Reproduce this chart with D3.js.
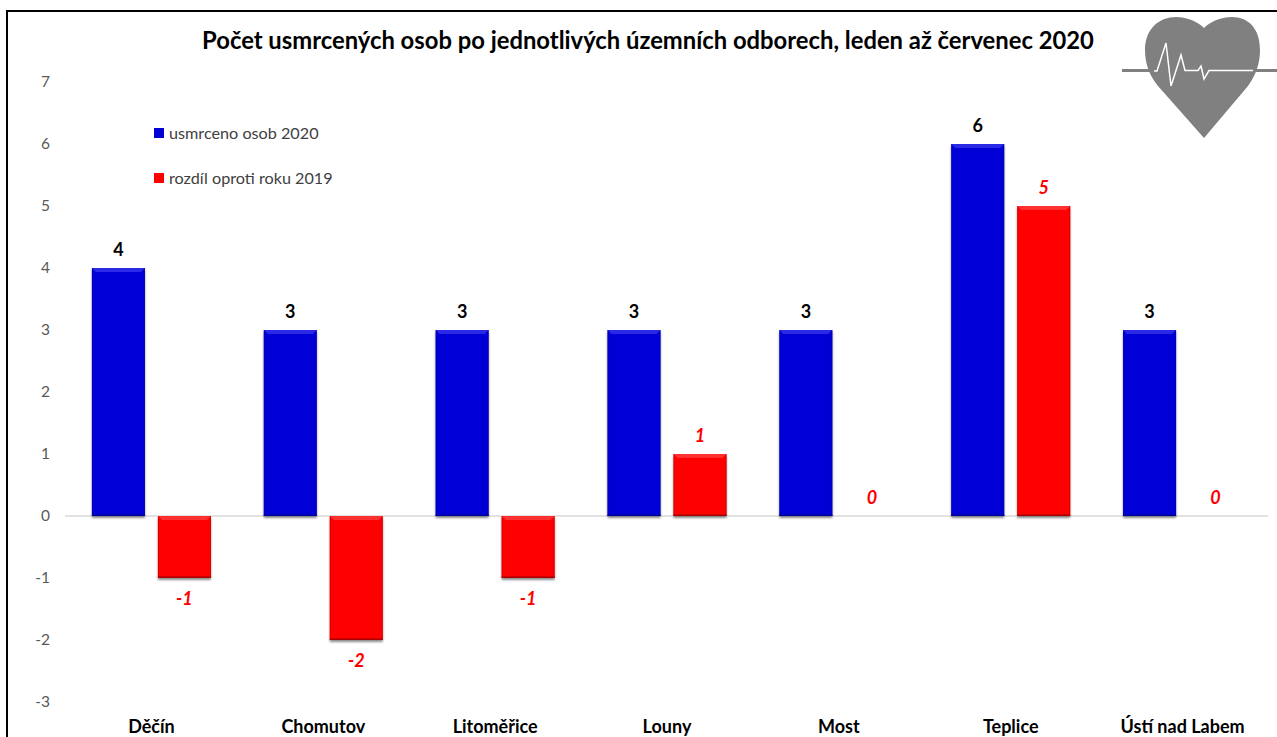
<!DOCTYPE html>
<html>
<head>
<meta charset="utf-8">
<script src="https://cdn.jsdelivr.net/npm/d3@7"></script>
<style>
  body { margin: 0; background: #fff; overflow: hidden; }
  text { font-family: Lato, sans-serif; }
</style>
</head>
<body>
<svg id="chart"></svg>
<script>
var w = 1277;
var h = 737;

var categories = ["Děčín", "Chomutov", "Litoměřice", "Louny", "Most", "Teplice", "Ústí nad Labem"];
var killed2020 = [4, 3, 3, 3, 3, 6, 3];
var diff2019 = [-1, -2, -1, 1, 0, 5, 0];
var seriesNames = ["usmrceno osob 2020", "rozdíl oproti roku 2019"];
var yTicks = [-3, -2, -1, 0, 1, 2, 3, 4, 5, 6, 7];
var chartTitle = "Počet usmrcených osob po jednotlivých územních odborech, leden až červenec 2020";

var svg = d3.select("#chart").attr("width", w).attr("height", h);

var defs = svg.append("defs");

var shadow = defs.append("filter").attr("id", "barShadow")
  .attr("x", "-15%").attr("y", "-15%").attr("width", "130%").attr("height", "130%");
shadow.append("feDropShadow").attr("dx", 0).attr("dy", 2).attr("stdDeviation", 1.3)
  .attr("flood-color", "#000").attr("flood-opacity", 0.45);

var x = d3.scaleBand().domain(categories).range([65.5, 1268.5]).paddingInner(0.3076).paddingOuter(0.1538);
var x1 = d3.scaleBand().domain([0, 1]).range([0, x.bandwidth()]).paddingInner(0.197);
var y = d3.scaleLinear().domain([-3, 7]).range([702, 82]);

// frame
svg.append("path").attr("d", "M7,737V11H1277").attr("fill", "none").attr("stroke", "#000").attr("stroke-width", 2);

svg.append("text").attr("x", 648).attr("y", 49).attr("text-anchor", "middle")
  .attr("font-size", 23.8).attr("font-weight", 700).attr("fill", "#000")
  .text(chartTitle);

// y axis, labels only
var yAxis = d3.axisLeft(y).tickValues(yTicks).tickSize(0).tickPadding(0).tickFormat(function(d) { return String(d); });
var yG = svg.append("g").attr("transform", "translate(50,0)").call(yAxis);
yG.select(".domain").remove();
yG.selectAll("text").attr("font-size", 15.5).attr("fill", "#595959")
  .style("font-family", "Lato, sans-serif");

// zero line
svg.append("line").attr("x1", 65).attr("x2", 1268).attr("y1", y(0)).attr("y2", y(0))
  .attr("stroke", "#d9d9d9").attr("stroke-width", 1.5);

// x labels
var xAxis = d3.axisBottom(x).tickSize(0).tickPadding(0);
var xG = svg.append("g").attr("transform", "translate(0,720)").call(xAxis);
xG.select(".domain").remove();
xG.selectAll("text").attr("font-size", 18).attr("font-weight", 700).attr("fill", "#000")
  .style("font-family", "Lato, sans-serif");

// bar with the bevelled top edge
function drawBar(g, left, width, value, base, light, dark) {
  var top = Math.min(y(value), y(0));
  var height = Math.abs(y(value) - y(0));
  var bev = Math.min(4, height / 2);
  var bar = g.append("g");
  bar.append("rect").attr("x", left).attr("y", top).attr("width", width).attr("height", height)
    .attr("fill", base).attr("filter", "url(#barShadow)");
  bar.append("path")
    .attr("d", "M" + left + "," + top + "h" + width + "l-" + bev + "," + bev + "h-" + (width - 2 * bev) + "z")
    .attr("fill", light);
  bar.append("rect").attr("x", left).attr("y", top + height - 1.5).attr("width", width).attr("height", 1.5)
    .attr("fill", dark);
  bar.append("rect").attr("x", left).attr("y", top).attr("width", 1).attr("height", height)
    .attr("fill", dark).attr("opacity", 0.5);
  bar.append("rect").attr("x", left + width - 1).attr("y", top).attr("width", 1).attr("height", height)
    .attr("fill", dark).attr("opacity", 0.5);
}

categories.forEach(function(c, i) {
  var g = svg.append("g").attr("transform", "translate(" + x(c) + ",0)");
  drawBar(g, x1(0), x1.bandwidth(), killed2020[i], "#0202d6", "#2a2ae6", "#00009a");
  if (diff2019[i] !== 0) drawBar(g, x1(1), x1.bandwidth(), diff2019[i], "#ff0000", "#ff3030", "#a80000");

  g.append("text")
    .attr("x", x1(0) + x1.bandwidth() / 2).attr("y", y(killed2020[i]) - 12)
    .attr("text-anchor", "middle").attr("font-size", 18).attr("font-weight", 700).attr("fill", "#000")
    .text(killed2020[i]);

  g.append("text")
    .attr("x", x1(1) + x1.bandwidth() / 2)
    .attr("y", diff2019[i] < 0 ? y(diff2019[i]) + 27 : y(diff2019[i]) - 12)
    .attr("text-anchor", "middle").attr("font-size", 18).attr("font-weight", 700)
    .attr("font-style", "italic").attr("fill", "#ff0000")
    .text(diff2019[i]);
});

// legend
var legendY = d3.scalePoint().domain(seriesNames).range([133, 178]);
var legendFill = ["#0202d6", "#ff0000"];
var lg = svg.selectAll(".lg").data(seriesNames).enter().append("g")
  .attr("class", "lg")
  .attr("transform", function(d) { return "translate(154," + legendY(d) + ")"; });
lg.append("rect").attr("y", -5).attr("width", 10).attr("height", 10)
  .attr("fill", function(d, i) { return legendFill[i]; });
lg.append("text").attr("x", 15).attr("y", 5.5).attr("font-size", 16.2).attr("fill", "#404040")
  .text(function(d) { return d; });

// heart logo
var logo = svg.append("g");
logo.append("path")
  .attr("d", "M1204,138 L1158,86 C1149,75 1145,63 1145,50 C1145,28 1160,17 1176,17 C1188,17 1198,22 1204,28 C1210,22 1220,17 1232,17 C1248,17 1260,28 1260,50 C1260,63 1256,75 1248,86 Z")
  .attr("fill", "#808080");
logo.append("path").attr("d", "M1122,70.5H1154M1253,70.5H1277").attr("stroke", "#808080").attr("stroke-width", 3).attr("fill", "none");
logo.append("path")
  .attr("d", "M1154,71 L1157,71 L1166,43 L1171,86 L1181,55 L1185,70.5 L1198,70.5 L1201,66 L1204,79 L1209,70.5 L1253,70.5")
  .attr("stroke", "#fff").attr("stroke-width", 1.5).attr("fill", "none");
</script>
</body>
</html>
